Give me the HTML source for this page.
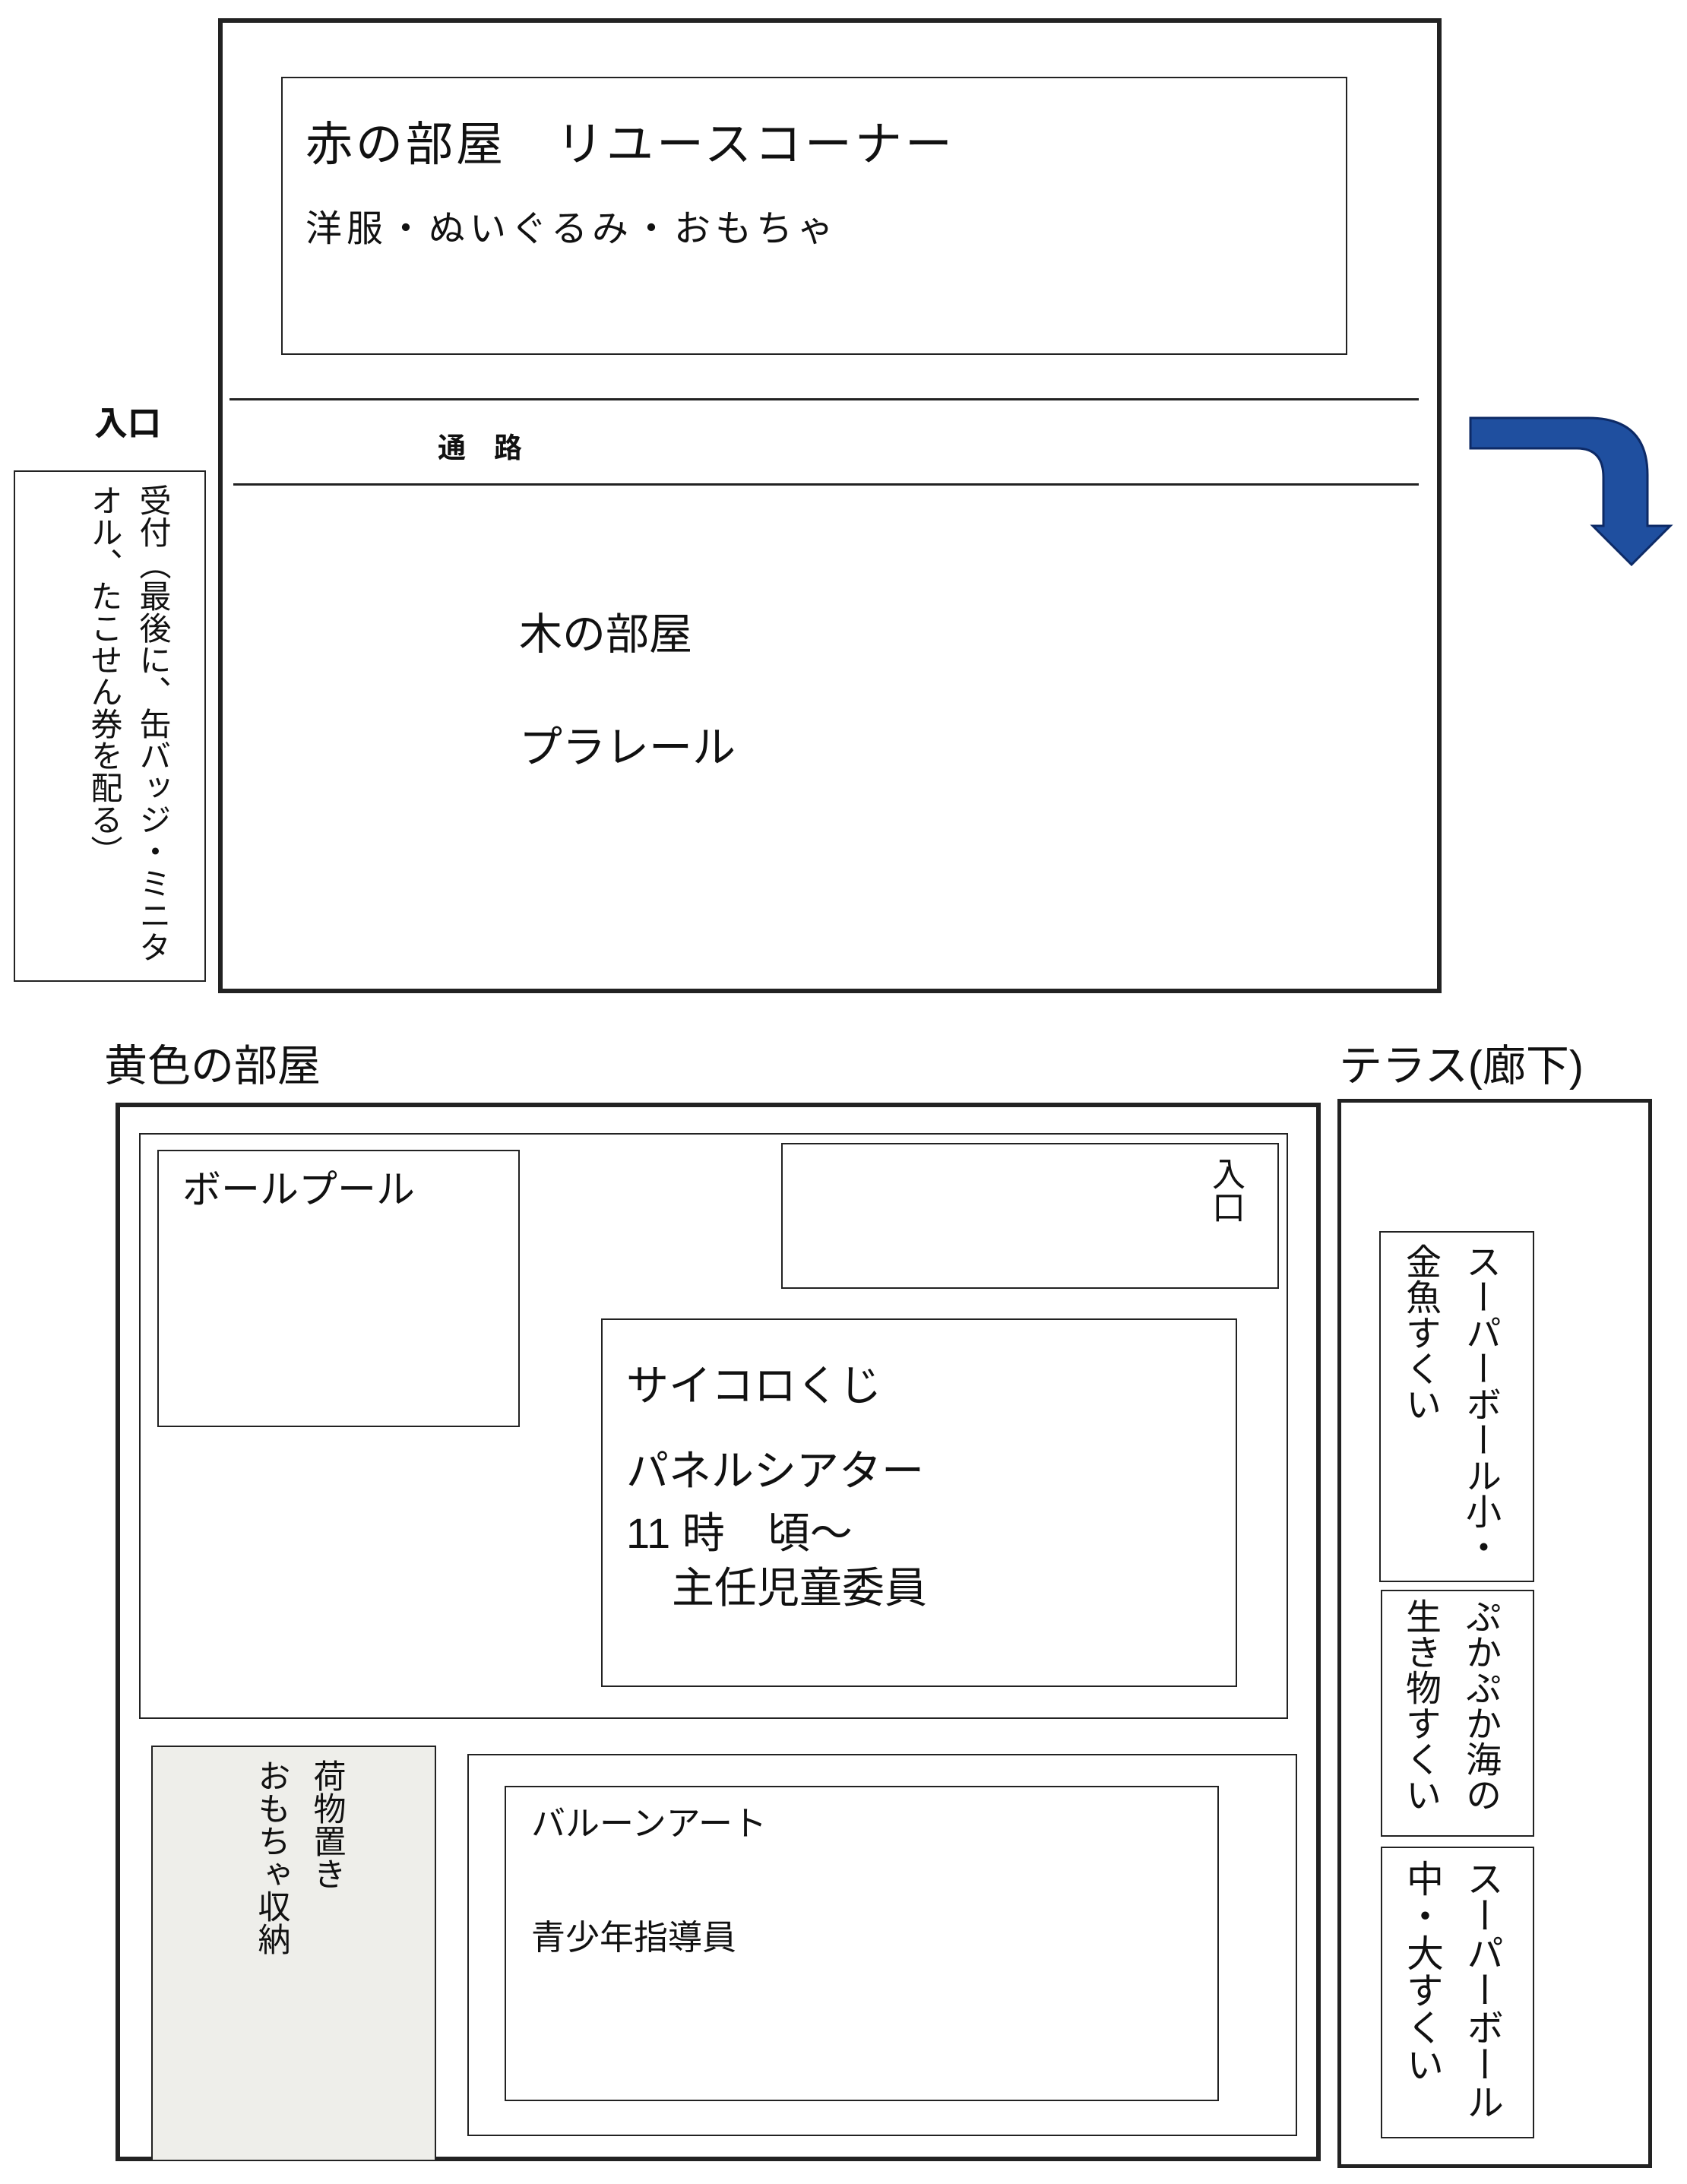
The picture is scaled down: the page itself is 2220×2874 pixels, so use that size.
<!DOCTYPE html>
<html><head><meta charset="utf-8"><style>
body{margin:0;background:#fff;}
#c{position:relative;width:2220px;height:2874px;overflow:hidden;background:#fff;font-family:"Liberation Sans","Noto Sans CJK JP",sans-serif;color:#111;}
.b{position:absolute;box-sizing:border-box;border:2px solid #222;}
.t{position:absolute;white-space:nowrap;line-height:1;}
.v{position:absolute;writing-mode:vertical-rl;white-space:nowrap;line-height:1;}
.h{position:absolute;height:0;border-top:3px solid #222;}
</style></head><body><div id="c">
<div class="b" style="left:287px;top:24px;width:1610px;height:1283px;border-width:6px"></div>
<div class="b" style="left:370px;top:101px;width:1403px;height:366px"></div>
<div class="t" style="left:402px;top:160px;font-size:62px;letter-spacing:4px">赤の部屋　リユースコーナー</div>
<div class="t" style="left:402px;top:278px;font-size:48px;letter-spacing:6px">洋服・ぬいぐるみ・おもちゃ</div>
<div class="h" style="left:302px;top:524px;width:1565px"></div>
<div class="t" style="left:576px;top:571px;font-size:37px;font-weight:bold">通　路</div>
<div class="h" style="left:307px;top:636px;width:1560px"></div>
<div class="t" style="left:683px;top:807px;font-size:57px">木の部屋</div>
<div class="t" style="left:683px;top:956px;font-size:57px">プラレール</div>
<div class="t" style="left:124px;top:536px;font-size:44px;font-weight:bold">入口</div>
<div class="b" style="left:18px;top:619px;width:253px;height:673px"></div>
<div class="v" style="left:180px;top:637px;font-size:42px">受付（最後に、缶バッジ・ミニタ</div>
<div class="v" style="left:116px;top:637px;font-size:42px">オル、たこせん券を配る）</div>
<svg style="position:absolute;left:0;top:0" width="2220" height="1400">
<path d="M1935 550 L2090 550 Q2168 550 2168 625 L2168 692 L2198 692 L2147 743 L2096 692 L2110 692 L2110 628 Q2110 590 2075 590 L1935 590 Z" fill="#1f4f9f" stroke="#0d2a66" stroke-width="3"/>
</svg>
<div class="t" style="left:137px;top:1375px;font-size:57px">黄色の部屋</div>
<div class="t" style="left:1762px;top:1375px;font-size:57px">テラス(廊下)</div>
<div class="b" style="left:152px;top:1451px;width:1586px;height:1393px;border-width:6px"></div>
<div class="b" style="left:183px;top:1491px;width:1512px;height:771px"></div>
<div class="b" style="left:207px;top:1513px;width:477px;height:365px"></div>
<div class="t" style="left:240px;top:1540px;font-size:51px">ボールプール</div>
<div class="b" style="left:1028px;top:1504px;width:655px;height:192px"></div>
<div class="v" style="left:1590px;top:1522px;font-size:44px">入口</div>
<div class="b" style="left:791px;top:1735px;width:837px;height:485px"></div>
<div class="t" style="left:824px;top:1796px;font-size:56px">サイコロくじ</div>
<div class="t" style="left:824px;top:1908px;font-size:56px">パネルシアター</div>
<div class="t" style="left:824px;top:1990px;font-size:56px">11 時　頃〜</div>
<div class="t" style="left:884px;top:2062px;font-size:56px">主任児童委員</div>
<div class="b" style="left:199px;top:2297px;width:375px;height:547px;background:#eeeeea"></div>
<div class="v" style="left:408px;top:2315px;font-size:43px">荷物置き</div>
<div class="v" style="left:335px;top:2315px;font-size:43px">おもちゃ収納</div>
<div class="b" style="left:615px;top:2308px;width:1092px;height:503px"></div>
<div class="b" style="left:664px;top:2350px;width:940px;height:415px"></div>
<div class="t" style="left:699px;top:2377px;font-size:45px">バルーンアート</div>
<div class="t" style="left:699px;top:2527px;font-size:45px">青少年指導員</div>
<div class="b" style="left:1760px;top:1446px;width:414px;height:1407px;border-width:5px"></div>
<div class="b" style="left:1815px;top:1620px;width:204px;height:462px"></div>
<div class="v" style="left:1925px;top:1636px;font-size:47px">スーパーボール小・</div>
<div class="v" style="left:1846px;top:1636px;font-size:47px">金魚すくい</div>
<div class="b" style="left:1817px;top:2092px;width:202px;height:325px"></div>
<div class="v" style="left:1925px;top:2103px;font-size:47px">ぷかぷか海の</div>
<div class="v" style="left:1846px;top:2103px;font-size:47px">生き物すくい</div>
<div class="b" style="left:1817px;top:2430px;width:202px;height:384px"></div>
<div class="v" style="left:1925px;top:2447px;font-size:49px">スーパーボール</div>
<div class="v" style="left:1846px;top:2447px;font-size:49px">中・大すくい</div>
</div></body></html>
